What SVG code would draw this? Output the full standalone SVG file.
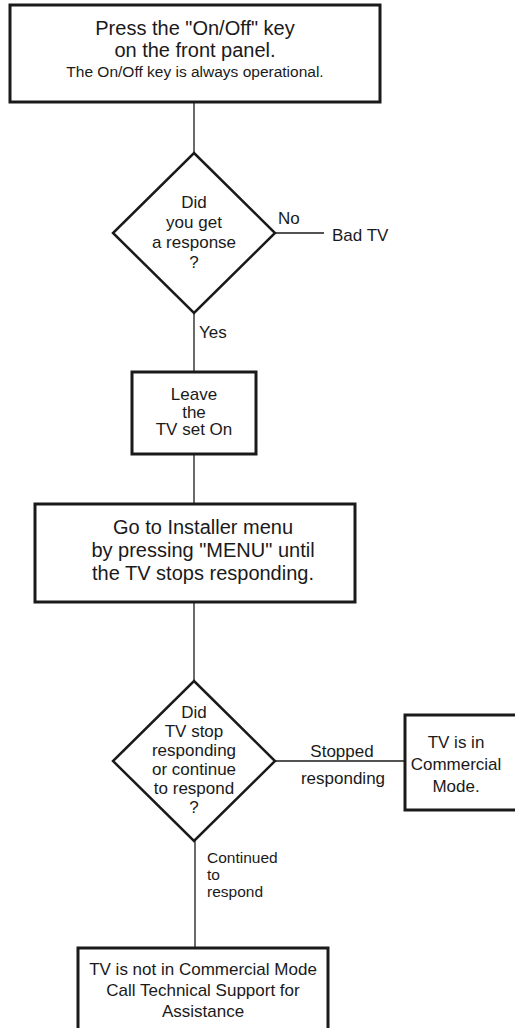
<svg xmlns="http://www.w3.org/2000/svg" width="515" height="1028" viewBox="0 0 515 1028">
<style>
.box{fill:#fff;stroke:#1a1a1a;stroke-width:3}
.dia{fill:#fff;stroke:#1a1a1a;stroke-width:2.5}
.conn{stroke:#1a1a1a;stroke-width:1.3;fill:none}
text{font-family:"Liberation Sans",Arial,sans-serif;fill:#1a1a1a}
.c{text-anchor:middle}
.big{font-size:20px}
.sm{font-size:15.5px}
.md{font-size:17px}
.lab{font-size:15.5px}
</style>
<rect width="515" height="1028" fill="#fff"/>
<g id="connectors">
<line class="conn" x1="194" y1="103" x2="194" y2="153"/>
<line class="conn" x1="275" y1="233" x2="324" y2="233"/>
<line class="conn" x1="194" y1="313" x2="194" y2="372"/>
<line class="conn" x1="194" y1="454" x2="194" y2="504"/>
<line class="conn" x1="194" y1="602" x2="194" y2="681"/>
<line class="conn" x1="275" y1="761" x2="405" y2="761"/>
<line class="conn" x1="195" y1="841" x2="195" y2="948"/>
<text class="md" x="278" y="224">No</text>
<text class="md" x="332" y="241">Bad TV</text>
<text class="md" x="199" y="338">Yes</text>
<text class="md c" x="342" y="757">Stopped</text>
<text class="md c" x="343" y="784">responding</text>
<text class="lab" x="207" y="863">Continued</text>
<text class="lab" x="207" y="880">to</text>
<text class="lab" x="207" y="897">respond</text>
</g>
<g id="start">
<rect class="box" x="10" y="5" width="370" height="97"/>
<text class="big c" x="195" y="35">Press the "On/Off" key</text>
<text class="big c" x="195" y="57">on the front panel.</text>
<text class="sm c" x="195" y="77">The On/Off key is always operational.</text>
</g>
<g id="decision1">
<polygon class="dia" points="194,153 275,233 194,313 113,233"/>
<text class="md c" x="194" y="208">Did</text>
<text class="md c" x="194" y="228">you get</text>
<text class="md c" x="194" y="248">a response</text>
<text class="md c" x="194" y="268">?</text>
</g>
<g id="leave">
<rect class="box" x="132" y="372" width="124" height="82"/>
<text class="md c" x="194" y="400">Leave</text>
<text class="md c" x="194" y="418">the</text>
<text class="md c" x="194" y="435">TV set On</text>
</g>
<g id="installer">
<rect class="box" x="35" y="504" width="320" height="98"/>
<text class="big c" x="203" y="534">Go to Installer menu</text>
<text class="big c" x="203" y="557">by pressing "MENU" until</text>
<text class="big c" x="203" y="580">the TV stops responding.</text>
</g>
<g id="decision2">
<polygon class="dia" points="194,681 275,761 194,841 113,761"/>
<text class="md c" x="194" y="718">Did</text>
<text class="md c" x="194" y="737">TV stop</text>
<text class="md c" x="194" y="756">responding</text>
<text class="md c" x="194" y="775">or continue</text>
<text class="md c" x="194" y="794">to respond</text>
<text class="md c" x="194" y="813">?</text>
</g>
<g id="commercial">
<rect class="box" x="405" y="715" width="120" height="95"/>
<text class="md c" x="456" y="748">TV is in</text>
<text class="md c" x="456" y="770">Commercial</text>
<text class="md c" x="456" y="792">Mode.</text>
</g>
<g id="notcommercial">
<rect class="box" x="78" y="948" width="250" height="90"/>
<text class="md c" x="203" y="975">TV is not in Commercial Mode</text>
<text class="md c" x="203" y="996">Call Technical Support for</text>
<text class="md c" x="203" y="1017">Assistance</text>
</g>
</svg>
